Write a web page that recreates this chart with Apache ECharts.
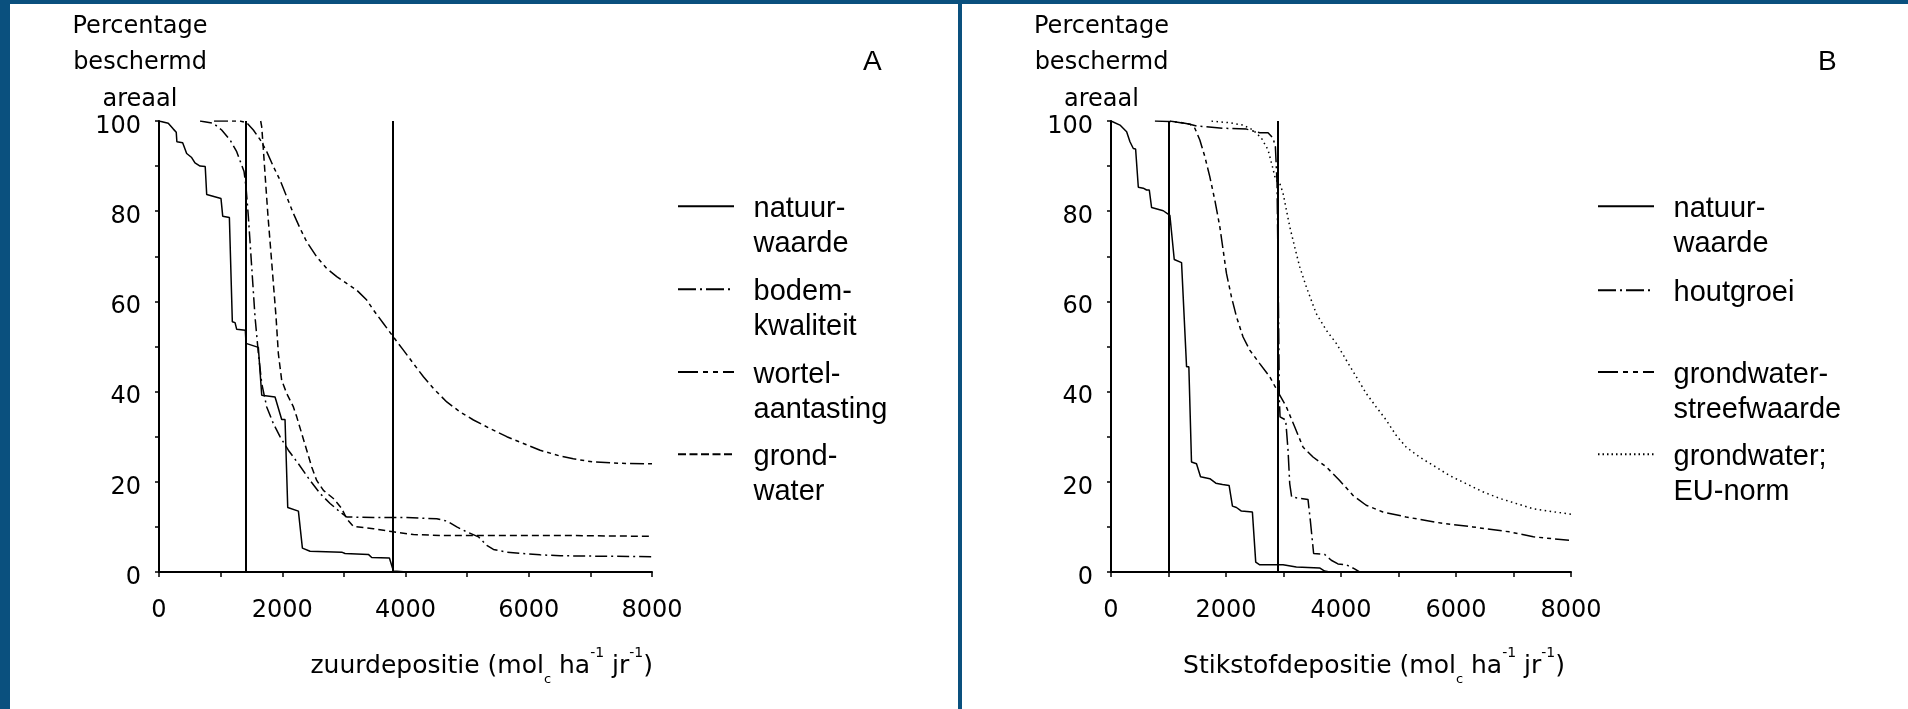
<!DOCTYPE html>
<html><head><meta charset="utf-8">
<script src="https://cdn.jsdelivr.net/npm/echarts@6/dist/echarts.min.js"></script>
<style>html,body{margin:0;padding:0;background:#0a507e;}#c{width:1908px;height:709px;}</style>
</head><body><div id="c"></div>
<script>
// ---------- DATA ----------
const xTickLabels = [0, 2000, 4000, 6000, 8000];
const yTickLabels = [0, 20, 40, 60, 80, 100];
const refLinesA = [1400, 3800];
const refLinesB = [1000, 2900];

// Panel A (zuurdepositie)
const natuurA = [[0,100],[150,99.5],[233,98.2],[280,97.5],[290,95.4],[384,95.2],[449,92.8],[530,91.9],[584,90.7],[666,90],[750,89.9],[774,83.7],[1006,82.8],[1034,78.9],[1142,78.6],[1190,55.5],[1234,55.3],[1261,53.8],[1401,53.6],[1412,50.7],[1612,49.8],[1667,39.2],[1883,38.8],[1991,33.8],[2045,33.8],[2089,14.3],[2262,13.5],[2327,5.3],[2451,4.6],[2965,4.4],[3019,4.1],[3398,3.9],[3452,3.2],[3739,3.1],[3804,0.2],[4020,0]];
const bodemA = [[666,100],[882,99.5],[1017,98],[1153,95.8],[1261,93.2],[1342,90.2],[1380,88.8],[1412,85.4],[1450,78.8],[1504,67.7],[1558,56.6],[1613,48.4],[1667,41.8],[1748,36.6],[1856,32.9],[1964,30],[2099,27],[2262,24],[2451,20.3],[2614,17.4],[2776,15.2],[2938,13.3],[3046,12.2],[3479,12.1],[4020,12.1],[4507,11.8],[4670,11.3],[4832,10],[4994,8.9],[5184,7.8],[5319,5.9],[5427,5],[5644,4.4],[6185,3.8],[6510,3.6],[7200,3.5],[8000,3.4]];
const wortelA = [[893,100],[1315,100],[1423,99.6],[1531,98],[1640,95.9],[1748,93.2],[1856,89.9],[1964,86.9],[2072,83.2],[2181,79.5],[2289,76.2],[2397,73.2],[2559,69.9],[2722,67.3],[2884,65.5],[3046,64],[3209,62.5],[3371,60.3],[3479,58.1],[3642,55.1],[3804,52.1],[3966,49.2],[4129,46.2],[4291,43.3],[4453,40.7],[4670,37.7],[4886,35.5],[5103,33.7],[5373,31.8],[5644,30],[5914,28.5],[6185,27],[6510,25.7],[6723,25.1],[7048,24.4],[7500,24.1],[8000,24]];
const grondA = [[1650,100],[1667,98.7],[1694,93.6],[1731,86.2],[1769,78.8],[1813,71.4],[1856,64],[1899,56.6],[1937,48.4],[1991,42.5],[2072,39.6],[2181,36.6],[2235,34.4],[2316,30.7],[2397,27],[2478,23.3],[2559,20.3],[2668,18.1],[2830,16.3],[2965,14.1],[3046,11.8],[3155,10.1],[3479,9.6],[3804,8.9],[4129,8.3],[4562,8.1],[6510,8.1],[8000,7.9]];

// Panel B (stikstofdepositie)
const natuurB = [[0,100],[156,99.1],[272,97.6],[330,95.4],[388,93.9],[428,93.8],[475,85.3],[561,85.1],[619,84.7],[666,84.7],[706,80.8],[909,80.1],[1024,79.1],[1100,69.3],[1227,68.6],[1314,45.5],[1354,45.5],[1400,24.4],[1487,24],[1557,21.1],[1719,20.7],[1823,19.7],[1939,19.4],[2054,19.2],[2112,14.6],[2182,14.3],[2268,13.5],[2459,13.3],[2517,2.2],[2587,1.6],[2992,1.6],[3223,1.1],[3628,0.9],[3715,0.2],[3802,0]];
const houtB = [[764,100],[1024,99.9],[1198,99.7],[1372,99.3],[1487,98.9],[1950,98.4],[2355,98.2],[2587,97.4],[2731,97.4],[2818,96.2],[2859,94.3],[2888,86.2],[2905,67.7],[2917,52.9],[2928,38.1],[2940,34.4],[3038,33.7],[3079,27],[3108,19.6],[3142,16.6],[3426,16.1],[3466,11.5],[3524,4.1],[3715,3.9],[3831,2.6],[3947,1.8],[4091,1.6],[4236,0.7],[4323,0]];
const streefB = [[1024,100],[1372,99.3],[1458,98.4],[1545,95.8],[1632,92.1],[1719,87.6],[1805,82.5],[1892,76.6],[1950,71.4],[2008,66.2],[2095,61],[2182,56.6],[2297,52.1],[2413,49.2],[2587,46.2],[2760,43.3],[2905,39.9],[3050,36.6],[3194,32.2],[3339,27.7],[3513,25.5],[3744,23.3],[3976,20.3],[4207,17],[4438,14.8],[4728,13.3],[5133,12.2],[5712,10.9],[6290,10],[6927,8.9],[7345,7.8],[8000,7]];
const euB = [[1748,100],[2066,99.6],[2297,99.1],[2471,98],[2616,96.2],[2731,93.6],[2807,89.9],[2865,86.9],[2934,86.2],[2992,84],[3050,80.3],[3108,76.6],[3194,72.1],[3281,67.7],[3397,63.2],[3570,57.3],[3744,53.6],[3918,50.7],[4091,47],[4265,43.3],[4438,39.6],[4612,36.6],[4786,33.7],[4959,30.3],[5133,27.7],[5364,25.5],[5596,23.7],[5885,21.4],[6174,19.6],[6464,17.8],[6765,16.3],[7345,14],[8000,12.8]];

const names = {
  natuur: 'natuur-\nwaarde', bodem: 'bodem-\nkwaliteit', wortel: 'wortel-\naantasting', grond: 'grond-\nwater',
  hout: 'houtgroei', streef: 'grondwater-\nstreefwaarde', eu: 'grondwater;\nEU-norm'
};
const yName = 'Percentage\nbeschermd\nareaal';
const xNameA = '{m|zuurdepositie (mol}{sub|c}{m| ha}{sup|-1}{m| jr}{sup|-1}{m|)}';
const xNameB = '{m|Stikstofdepositie (mol}{sub|c}{m| ha}{sup|-1}{m| jr}{sup|-1}{m|)}';

// ---------- STYLE ----------
const FA = 'DejaVu Sans', FL = 'Liberation Sans';
const DASH = { solid: 'solid', dashDot: [12,4,2,4], dashDotDot: [14,4,4,4,4,4], dashed: [7,4], dotted: [1.5,3.5] };
const LDASH = { solid: 'solid', dashDot: [18,4,2,4], dashDotDot: [20,5,5,5,5,5], dashed: [8,3.5], dotted: [1.5,3] };

const richName = {
  m: {fontFamily: FA, fontSize: 25, lineHeight: 40, color: '#000'},
  sub: {fontFamily: FA, fontSize: 13, lineHeight: 13, verticalAlign: 'bottom', color: '#000'},
  sup: {fontFamily: FA, fontSize: 14, lineHeight: 32, verticalAlign: 'top', color: '#000'}
};

function xAxisCfg(gi, name, gap) {
  return {
    type: 'value', gridIndex: gi, min: 0, max: 8000, interval: 1000,
    axisLine: {show: true, onZero: false, lineStyle: {color: '#000', width: 2}},
    axisTick: {show: true, inside: false, length: 5, lineStyle: {color: '#000', width: 1.5}},
    axisLabel: {show: true, margin: 27, color: '#000', fontFamily: FA, fontSize: 24,
      formatter: v => xTickLabels.includes(v) ? String(v) : ''},
    splitLine: {show: false},
    name: name, nameLocation: 'end', nameGap: gap, nameMoveOverlap: false,
    nameTextStyle: {align: 'right', verticalAlign: 'top', padding: [74, 0, 0, 0], rich: richName}
  };
}
function yAxisCfg(gi, padR) {
  return {
    type: 'value', gridIndex: gi, min: 0, max: 100, interval: 10,
    axisLine: {show: true, lineStyle: {color: '#000', width: 2}},
    axisTick: {show: true, inside: false, length: 4, lineStyle: {color: '#000', width: 1.5}},
    axisLabel: {show: true, margin: 18, color: '#000', fontFamily: FA, fontSize: 24,
      verticalAlign: 'top', lineHeight: 11,
      formatter: v => yTickLabels.includes(v) ? String(v) : ''},
    splitLine: {show: false},
    name: yName, nameLocation: 'end', nameGap: 3, nameMoveOverlap: false,
    nameTextStyle: {fontFamily: FA, fontSize: 24, lineHeight: 36.5, color: '#000', align: 'center',
      verticalAlign: 'bottom', padding: [0, padR, 0, 0]}
  };
}
function ser(name, data, gi, dash, extra) {
  return Object.assign({
    type: 'line', name: name, data: data, xAxisIndex: gi, yAxisIndex: gi,
    symbol: 'none', showSymbol: false, silent: true, animation: false,
    lineStyle: {color: '#000', width: 1.5, type: dash}, itemStyle: {color: '#000'}
  }, extra || {});
}
function refLines(vals) {
  return {markLine: {silent: true, animation: false, symbol: ['none', 'none'], label: {show: false},
    lineStyle: {color: '#000', type: 'solid', width: 2}, data: vals.map(v => ({xAxis: v}))}};
}
function leg(name, left, iconY, dash, lines) {
  const gapH = lines === 2 ? 41 : 6;
  const H = lines * 35 + gapH;
  return {
    data: [name], left: left, top: iconY - H / 2 + 2, orient: 'vertical', padding: 0,
    itemWidth: 56, itemHeight: 14, itemGap: 0, selectedMode: false,
    itemStyle: {opacity: 0},
    lineStyle: {type: dash, width: 2, color: '#000'},
    formatter: n => '{g|\u00a0}\n' + n,
    textStyle: {fontFamily: FL, fontSize: 29, lineHeight: 35, color: '#000', padding: [0, 0, 0, 14.5],
      rich: {g: {fontSize: 8, lineHeight: gapH}}}
  };
}

const option = {
  backgroundColor: '#0a507e',
  animation: false,
  textStyle: {fontFamily: FA},
  graphic: [
    {type: 'rect', silent: true, z: -10, shape: {x: 10, y: 4, width: 948, height: 705}, style: {fill: '#fff'}},
    {type: 'rect', silent: true, z: -10, shape: {x: 962, y: 4, width: 946, height: 705}, style: {fill: '#fff'}}
  ],
  title: [
    {text: 'A', left: 863, top: 48, padding: 0, textStyle: {fontFamily: FL, fontSize: 28, fontWeight: 'normal', color: '#000'}},
    {text: 'B', left: 1818, top: 48, padding: 0, textStyle: {fontFamily: FL, fontSize: 28, fontWeight: 'normal', color: '#000'}}
  ],
  grid: [
    {left: 159, right: 1256, top: 121, bottom: 137, containLabel: false, outerBoundsMode: 'none'},
    {left: 1111, right: 337, top: 121, bottom: 137, containLabel: false, outerBoundsMode: 'none'}
  ],
  xAxis: [xAxisCfg(0, xNameA, 1), xAxisCfg(1, xNameB, -6)],
  yAxis: [yAxisCfg(0, 38), yAxisCfg(1, 19)],
  legend: [
    leg(names.natuur, 677, 204.3, LDASH.solid, 2),
    leg(names.bodem, 677, 287.3, LDASH.dashDot, 2),
    leg(names.wortel, 677, 370, LDASH.dashDotDot, 2),
    leg(names.grond, 677, 452.3, LDASH.dashed, 2),
    leg(names.natuur, 1597, 204.3, LDASH.solid, 2),
    leg(names.hout, 1597, 287.3, LDASH.dashDot, 1),
    leg(names.streef, 1597, 370, LDASH.dashDotDot, 2),
    leg(names.eu, 1597, 452.3, LDASH.dotted, 2)
  ],
  series: [
    ser(names.natuur, natuurA, 0, DASH.solid, refLines(refLinesA)),
    ser(names.bodem, bodemA, 0, DASH.dashDot),
    ser(names.wortel, wortelA, 0, DASH.dashDotDot),
    ser(names.grond, grondA, 0, DASH.dashed),
    ser(names.natuur, natuurB, 1, DASH.solid, refLines(refLinesB)),
    ser(names.hout, houtB, 1, [16,4,2,4]),
    ser(names.streef, streefB, 1, DASH.dashDotDot),
    ser(names.eu, euB, 1, DASH.dotted)
  ]
};
const chart = echarts.init(document.getElementById('c'), null, {renderer: 'canvas'});
chart.setOption(option);
</script></body></html>
